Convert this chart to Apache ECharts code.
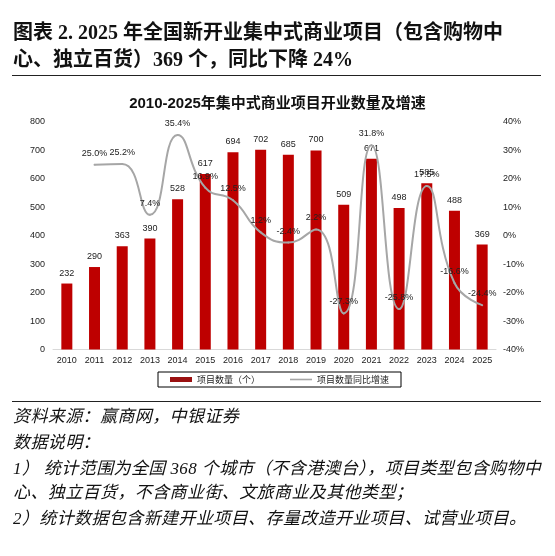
<!DOCTYPE html>
<html>
<head>
<meta charset="utf-8">
<script src="https://cdn.jsdelivr.net/npm/echarts@6/dist/echarts.min.js"></script>
<style>
  html, body { margin: 0; padding: 0; background: #fff; }
  #wrap { position: relative; width: 555px; height: 556px; overflow: hidden; }
  #chart { position: absolute; left: 0; top: 0; width: 555px; height: 556px; }
  .head { position: absolute; left: 13px; top: 19px; font: bold 20px/27px "Liberation Serif", "Noto Sans CJK SC"; color: #111; white-space: nowrap; }
  .rule { position: absolute; left: 12px; width: 529px; height: 0; border-top: 1.5px solid #222; }
  .foot { position: absolute; left: 13px; font: italic 17px "Liberation Serif", "Noto Sans CJK SC"; letter-spacing: 0.4px; color: #111; white-space: nowrap; }
</style>
</head>
<body>
<div id="wrap">
  <div id="chart"></div>
  <div class="head">图表 2. 2025 年全国新开业集中式商业项目（包含购物中<br>心、独立百货）369 个，同比下降 24%</div>
  <div class="rule" style="top:75px"></div>
  <div class="rule" style="top:401px"></div>
  <div class="foot" style="top:402px">资料来源：赢商网，中银证券</div>
  <div class="foot" style="top:428px">数据说明：</div>
  <div class="foot" style="top:454px">1） 统计范围为全国 368 个城市（不含港澳台），项目类型包含购物中</div>
  <div class="foot" style="top:478px">心、独立百货，不含商业街、文旅商业及其他类型；</div>
  <div class="foot" style="top:504px">2）统计数据包含新建开业项目、存量改造开业项目、试营业项目。</div>
</div>
<script>
// 年份
var years = ['2010', '2011', '2012', '2013', '2014', '2015', '2016', '2017',
             '2018', '2019', '2020', '2021', '2022', '2023', '2024', '2025'];
// 项目数量（个）
var counts = [232, 290, 363, 390, 528, 617, 694, 702, 685, 700, 509, 671, 498, 585, 488, 369];
// 同比增速（%）
var growth = [null, 25.0, 25.2, 7.4, 35.4, 16.9, 12.5, 1.2, -2.4, 2.2, -27.3, 31.8, -25.8, 17.5, -16.6, -24.4];

var chart = echarts.init(document.getElementById('chart'));
var labelFont = 'Liberation Sans, Arial, sans-serif';

var option = {
    title: {
        text: '2010-2025年集中式商业项目开业数量及增速',
        left: 'center',
        top: 91,
        textStyle: {
            fontSize: 15,
            fontWeight: 'bold',
            color: '#111',
            fontFamily: 'Liberation Sans, Noto Sans CJK SC'
        }
    },
    grid: {
        left: 53,
        right: 59,
        top: 122,
        bottom: 206.5
    },
    legend: {
        left: 158,
        top: 372,
        padding: [3, 12, 3, 12],
        borderColor: '#000',
        borderWidth: 1,
        itemGap: 30,
        itemWidth: 22,
        itemHeight: 5,
        textStyle: { fontSize: 9, color: '#222', fontFamily: 'Noto Sans CJK SC' },
        data: [
            { name: '项目数量（个）', icon: 'rect', itemStyle: { color: '#9a1010' } },
            { name: '项目数量同比增速', icon: 'path://M0,0L22,0L22,1.6L0,1.6Z', itemStyle: { color: '#a6a6a6' } }
        ]
    },
    xAxis: {
        type: 'category',
        data: years,
        axisLine: { lineStyle: { color: '#d9d9d9' } },
        axisTick: { show: false },
        axisLabel: { color: '#222', fontSize: 9, margin: 7, fontFamily: labelFont }
    },
    yAxis: [
        {
            type: 'value',
            min: 0,
            max: 800,
            interval: 100,
            splitLine: { show: false },
            axisLine: { show: false },
            axisTick: { show: false },
            axisLabel: { color: '#222', fontSize: 9, margin: 8, fontFamily: labelFont }
        },
        {
            type: 'value',
            min: -40,
            max: 40,
            interval: 10,
            splitLine: { show: false },
            axisLine: { show: false },
            axisTick: { show: false },
            axisLabel: { color: '#222', fontSize: 9, margin: 7, formatter: '{value}%', fontFamily: labelFont }
        }
    ],
    series: [
        {
            name: '项目数量（个）',
            type: 'bar',
            data: counts,
            barWidth: 11,
            itemStyle: { color: '#be0000' },
            label: {
                show: true,
                position: 'top',
                distance: 6,
                fontSize: 9,
                color: '#222',
                fontFamily: labelFont
            }
        },
        {
            name: '项目数量同比增速',
            type: 'line',
            yAxisIndex: 1,
            data: growth,
            smooth: 0.5,
            symbol: 'circle',
            symbolSize: 2,
            showSymbol: true,
            showAllSymbol: true,
            z: 5,
            lineStyle: { color: '#a6a6a6', width: 2 },
            itemStyle: { color: '#a6a6a6' },
            label: {
                show: true,
                position: 'top',
                distance: 6,
                fontSize: 9,
                color: '#222',
                fontFamily: labelFont,
                formatter: function (p) { return p.value == null ? '' : p.value.toFixed(1) + '%'; }
            },
            labelLayout: { hideOverlap: false }
        }
    ]
};
chart.setOption(option);
</script>
</body>
</html>
